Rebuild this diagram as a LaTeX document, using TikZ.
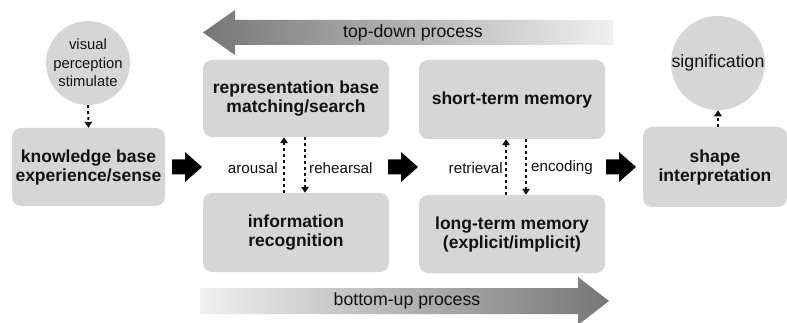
\documentclass[tikz,border=0pt]{standalone}
\usepackage{fontspec}
\setmainfont{Liberation Sans}
\usetikzlibrary{arrows.meta,calc}
\definecolor{boxgray}{RGB}{214,214,214}
\definecolor{txt}{RGB}{18,18,18}
\definecolor{darkg}{RGB}{118,118,118}
\definecolor{lightg}{RGB}{240,240,240}
\begin{document}
\begin{tikzpicture}[x=1pt,y=-1pt,
 box/.style={fill=boxgray, rounded corners=9pt, align=center, text=txt, font=\fontsize{17.5}{19}\selectfont\bfseries, inner sep=0pt},
 circ/.style={circle, fill=boxgray, inner sep=0pt, minimum size=78pt, align=center, text=txt},
 lbl/.style={text=txt, font=\fontsize{15.2}{18}\selectfont, inner sep=0pt},
 darr/.style={draw=txt, line width=2pt, dash pattern=on 3pt off 3pt, -{Triangle[length=6pt,width=7.5pt]}},
 blockarrow/.pic={\fill[black] (0,-7.5) -- (13,-7.5) -- (13,-15) -- (30,0) -- (13,15) -- (13,7.5) -- (0,7.5) -- cycle;}
]
\useasboundingbox (0,0) rectangle (787,323);

% gradient process arrows
\shade[left color=darkg, right color=lightg] (203,32.5) -- (235,10) -- (235,20) -- (613,20) -- (613,45) -- (235,45) -- (235,55) -- cycle;
\node[font=\fontsize{17.7}{20}\selectfont, text=txt, inner sep=0pt] (td) at (413,32.5) {top-down process};
\shade[left color=lightg, right color=darkg] (200,288) -- (578,288) -- (578,277) -- (609,301) -- (578,325) -- (578,314) -- (200,314) -- cycle;
\node[font=\fontsize{17.7}{20}\selectfont, text=txt, inner sep=0pt] (bu) at (407,301) {bottom-up process};

% circles
\node[circ, font=\fontsize{14.8}{18.5}\selectfont] (vis) at (88,63) {visual\\perception\\stimulate};
\node[circ, font=\fontsize{17.8}{20}\selectfont] (sig) at (718,63) {signification};

% boxes
\node[box, minimum width=153pt, minimum height=78pt] (know) at (88.5,167) {knowledge base\\experience/sense};
\node[box, minimum width=186pt, minimum height=77pt] (rep) at (296,98.5) {representation base\\matching/search};
\node[box, minimum width=186pt, minimum height=79pt] (info) at (296,232.5) {information\\recognition};
\node[box, minimum width=186pt, minimum height=79pt] (stm) at (512,99.5) {short-term memory};
\node[box, minimum width=186pt, minimum height=78pt] (ltm) at (512,234) {long-term memory\\(explicit/implicit)};
\node[box, minimum width=144pt, minimum height=80pt] (shape) at (715,167) {shape\\interpretation};

% dashed connectors
\draw[darr] (vis.south) -- (know.north);
\draw[darr] (sig.south |- shape.north) -- (sig.south);
\draw[darr] ([xshift=-12pt]info.north) -- ([xshift=-12pt]rep.south);
\draw[darr] ([xshift=9pt]rep.south) -- ([xshift=9pt]info.north);
\draw[darr] ([xshift=-6pt]ltm.north) -- ([xshift=-6pt]stm.south);
\draw[darr] ([xshift=14pt]stm.south) -- ([xshift=14pt]ltm.north);

% labels
\node[lbl, anchor=east] (aro) at (278,168) {arousal};
\node[lbl, anchor=west] (reh) at (309,168) {rehearsal};
\node[lbl, anchor=east] (ret) at (503,168) {retrieval};
\node[lbl, anchor=west] (enc) at (531,168) {encoding};

% black block arrows
\pic at (172,167) {blockarrow};
\pic at (388,167) {blockarrow};
\pic at (606,167) {blockarrow};
\end{tikzpicture}
\end{document}
